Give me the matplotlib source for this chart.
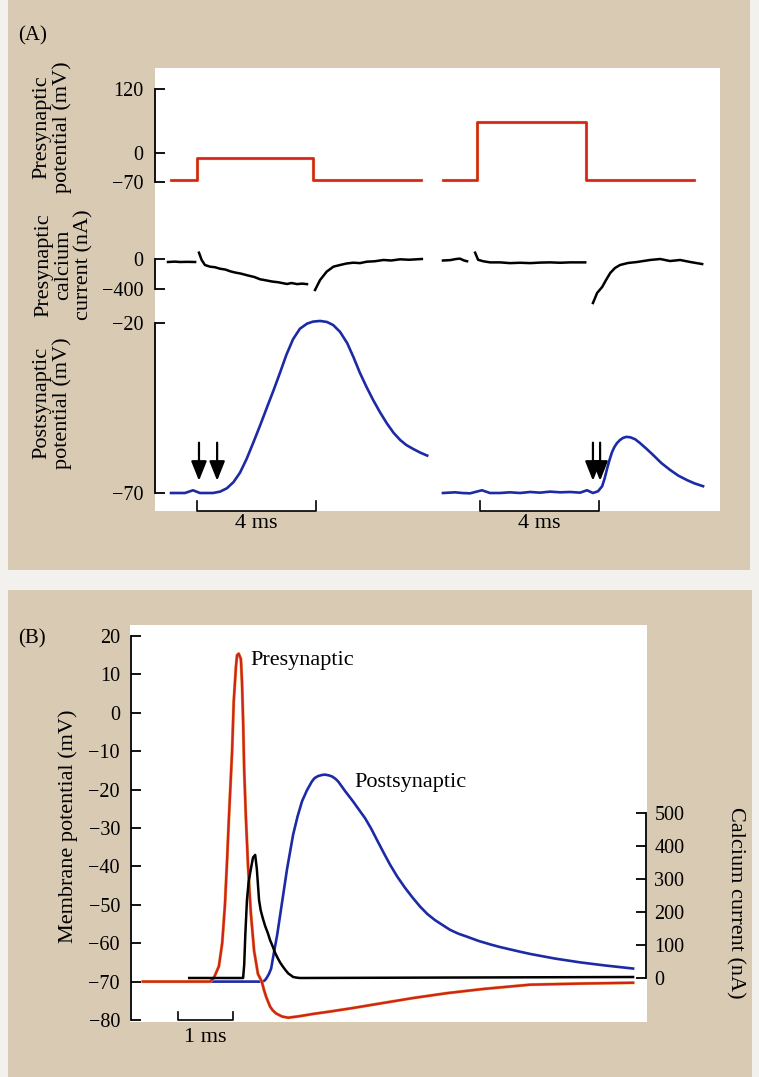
import numpy as np
import matplotlib
matplotlib.use("Agg")
import matplotlib.pyplot as plt
from matplotlib.patches import Rectangle

plt.rcParams['font.family'] = ['Liberation Serif', 'DejaVu Serif']

# ======================= DATA =======================
# ---- Panel A (time in ms; two voltage-clamp episodes) ----
pre_t_left = [0.0, 0.87, 4.77, 8.40]
pre_v_left = [-65, -12, -65, -65]
pre_t_right = [9.14, 10.29, 13.95, 17.58]
pre_v_right = [-65, 58, -65, -65]

ca_t_left_1 = [-0.10, 0.13, 0.30, 0.54, 0.81]
ca_i_left_1 = [-40, -35, -40, -38, -40]
ca_t_left_2 = [0.94, 1.03, 1.14, 1.31, 1.48, 1.65, 1.82, 2.00, 2.15, 2.35, 2.59, 2.80,
               2.99, 3.20, 3.39, 3.60, 3.90, 4.05, 4.24, 4.40, 4.57]
ca_i_left_2 = [84, -13, -80, -102, -110, -130, -140, -165, -180, -195, -220, -240,
               -270, -285, -300, -310, -333, -320, -335, -328, -335]
ca_t_left_3 = [4.84, 5.01, 5.23, 5.46, 5.68, 5.90, 6.13, 6.35, 6.58, 6.85, 7.14, 7.40,
               7.70, 8.00, 8.43]
ca_i_left_3 = [-413, -280, -169, -102, -80, -60, -49, -55, -36, -30, -13, -20,
               -4, -10, 0]

ca_t_right_1 = [9.14, 9.38, 9.58, 9.71, 9.85, 9.95]
ca_i_right_1 = [-20, -15, 0, 5, -20, -30]
ca_t_right_2 = [10.22, 10.32, 10.49, 10.72, 11.06, 11.39, 11.73, 12.07, 12.40,
                12.74, 13.08, 13.41, 13.92]
ca_i_right_2 = [84, -10, -30, -45, -45, -55, -50, -55, -48, -45, -50, -45, -45]
ca_t_right_3 = [14.18, 14.32, 14.49, 14.62, 14.76, 14.92, 15.09, 15.36, 15.66,
                16.10, 16.44, 16.77, 17.11, 17.45, 17.85]
ca_i_right_3 = [-587, -453, -373, -280, -187, -120, -80, -53, -40,
                -13, 0, -27, -13, -40, -67]

post_t_left = [0.0, 0.47, 0.74, 0.97, 1.41, 1.65, 1.88, 2.10, 2.32, 2.54, 2.76, 3.00,
               3.23, 3.45, 3.66, 3.88, 4.10, 4.33, 4.57, 4.77, 5.01, 5.24, 5.45, 5.68,
               5.92, 6.13, 6.35, 6.57, 6.79, 7.02, 7.26, 7.48, 7.70, 7.91, 8.13, 8.37, 8.61]
post_v_left = [-70, -70, -69.2, -70, -70, -69.6, -68.6, -66.8, -64, -60, -55.3, -50,
               -44.7, -39.7, -34.7, -29.3, -24.8, -21.7, -20.2, -19.6, -19.4, -19.7, -20.6,
               -22.6, -25.9, -30, -34.7, -38.8, -42.6, -46.2, -49.6, -52.3, -54.4, -55.9,
               -57, -58.1, -59]
post_t_right = [9.14, 9.55, 9.78, 10.05, 10.45, 10.72, 11.06, 11.39, 11.73, 12.07, 12.40,
                12.74, 13.08, 13.41, 13.75, 13.98, 14.18, 14.35, 14.49, 14.58, 14.66, 14.74,
                14.82, 14.90, 14.99, 15.09, 15.19, 15.30, 15.43, 15.60, 15.76, 15.98, 16.20,
                16.48, 16.77, 17.05, 17.34, 17.60, 17.88]
post_v_right = [-70, -69.8, -70, -70.1, -69.2, -70, -70, -69.8, -70, -69.7, -69.9,
                -69.6, -69.8, -69.7, -69.9, -69.2, -70, -69.5, -68, -65.5, -62.7, -60.2,
                -58, -56.5, -55.3, -54.4, -53.8, -53.5, -53.6, -54.2, -55.3, -57, -58.8,
                -61.2, -63.2, -64.9, -66.2, -67.2, -68]

arrow_t_left = [0.94, 1.55]
arrow_t_right = [14.18, 14.42]
scalebar_a_start = [0.87, 10.39]
scalebar_a_len = 4.0

pre_ticks = [-70, 0, 120]
ca_ticks = [-400, 0]
post_ticks = [-70, -20]

# ---- Panel B (time in ms) ----
pre_t_b = [0.0, 1.04, 1.22, 1.29, 1.38, 1.44, 1.49, 1.53, 1.56, 1.62, 1.65, 1.69,
           1.71, 1.74, 1.78, 1.80, 1.82, 1.84, 1.87, 1.91, 1.96, 2.02, 2.09, 2.16,
           2.20, 2.24, 2.31, 2.36, 2.42, 2.53, 2.64, 2.85, 3.10, 3.40, 3.85, 4.31,
           4.90, 5.53, 6.20, 7.04, 8.00, 8.91]
pre_v_b = [-70, -70, -70, -69, -66, -60, -50, -38, -28, -10, 3, 12,
           15.0, 15.4, 14, 8, -2, -15, -27, -40, -52, -62, -68, -70,
           -72.2, -74, -76.5, -77.5, -78.3, -79.1, -79.4, -79, -78.4, -77.8, -76.8, -75.7,
           -74.3, -73, -71.9, -70.8, -70.5, -70.3]
ca_t_b = [0.84, 1.82, 1.84, 1.86, 1.89, 1.92, 1.95, 2.00, 2.04, 2.07, 2.11, 2.14, 2.18,
          2.22, 2.27, 2.31, 2.36, 2.40, 2.45, 2.50, 2.55, 2.60, 2.64, 2.69, 2.73, 2.80,
          2.85, 8.91]
ca_i_b = [0, 0, 40, 130, 236, 290, 320, 365, 373, 330, 236, 205, 180,
          158, 136, 115, 95, 77, 60, 45, 33, 22, 14, 8, 3, 1,
          0, 3]
post_t_b = [0.0, 2.18, 2.22, 2.25, 2.29, 2.33, 2.38, 2.44, 2.53, 2.62, 2.73, 2.81, 2.89,
            2.98, 3.07, 3.12, 3.18, 3.25, 3.31, 3.38, 3.44, 3.50, 3.55, 3.67, 3.82, 3.93,
            4.04, 4.15, 4.25, 4.37, 4.49, 4.62, 4.76, 4.90, 5.04, 5.17, 5.31, 5.45, 5.58,
            5.73, 5.89, 6.10, 6.31, 6.49, 6.67, 6.85, 7.04, 7.49, 7.95, 8.40, 8.91]
post_v_b = [-70, -70, -69.6, -69, -68, -66.6, -62.5, -57.8, -49.2, -40.6, -31.7, -27, -23.1,
            -20.2, -17.9, -17.0, -16.5, -16.2, -16.1, -16.3, -16.6, -17.2, -17.9, -20.3, -23.1,
            -25.3, -27.5, -30.2, -33, -36.3, -39.5, -42.6, -45.5, -48.1, -50.5, -52.4, -54,
            -55.3, -56.5, -57.5, -58.3, -59.4, -60.3, -61.0, -61.6, -62.2, -62.8, -64, -65,
            -65.8, -66.6]
mv_ticks_b = [20, 10, 0, -10, -20, -30, -40, -50, -60, -70, -80]
na_ticks_b = [0, 100, 200, 300, 400, 500]
scalebar_b_start = 0.64
scalebar_b_len = 1.0

# ======================= STYLE / LAYOUT =======================
W, H = 759, 1077
BEIGE = '#d9cab3'
RED = '#d1221e'
RED_FRINGE = '#eab84a'
BLUE = '#1c2aa6'
TICK_FS = 14.5
LAB_FS = 16

fig = plt.figure(figsize=(W / 100, H / 100), dpi=100, facecolor='#f3f1ee')


def frect(x0, y0, x1, y1):
    return [x0 / W, 1 - y1 / H, (x1 - x0) / W, (y1 - y0) / H]


def fpt(x, y):
    return x / W, 1 - y / H


def add_bg(x0, y0, x1, y1, color, z):
    fig.patches.append(Rectangle((x0 / W, 1 - y1 / H), (x1 - x0) / W, (y1 - y0) / H,
                                 transform=fig.transFigure, facecolor=color,
                                 edgecolor='none', zorder=z))


add_bg(8, 0, 750, 570, BEIGE, -10)
add_bg(8, 590, 752, 1077, BEIGE, -10)
add_bg(155, 68, 720, 511, 'white', -9)
add_bg(130, 625, 647, 1022, 'white', -9)


def style_left(ax, bounds, ticks, pad=8.5):
    for s in ['top', 'right', 'bottom']:
        ax.spines[s].set_visible(False)
    ax.spines['left'].set_bounds(*bounds)
    ax.spines['left'].set_linewidth(1.3)
    ax.set_yticks(ticks)
    ax.set_xticks([])
    ax.tick_params(axis='y', direction='in', length=7, width=1.3,
                   labelsize=TICK_FS, pad=pad)
    ax.set_facecolor('none')


XLIM_A = (-0.538, 18.45)


# ---- Panel A top: presynaptic potential (axis is compressed below 0 mV) ----
def fwd(v):
    v = np.asarray(v, dtype=float)
    return np.where(v < 0, v * 29 / 70, v * 64 / 120)


def inv(u):
    u = np.asarray(u, dtype=float)
    return np.where(u < 0, u * 70 / 29, u * 120 / 64)


ax1 = fig.add_axes(frect(155, 85, 720, 190))
ax1.set_yscale('function', functions=(fwd, inv))
ax1.set_ylim(-89.3, 127.5)
ax1.set_xlim(*XLIM_A)
style_left(ax1, (-70, 120), pre_ticks)
for t, v in [(pre_t_left, pre_v_left), (pre_t_right, pre_v_right)]:
    ax1.plot(t, v, drawstyle='steps-post', color=RED_FRINGE, lw=2.3)
    ax1.plot(t, v, drawstyle='steps-post', color=RED, lw=1.8)

# ---- Panel A middle: calcium current ----
ax2 = fig.add_axes(frect(155, 245, 720, 310))
ax2.set_ylim(-680, 186.7)
ax2.set_xlim(*XLIM_A)
style_left(ax2, (-400, 0), ca_ticks)
for t, i in [(ca_t_left_1, ca_i_left_1), (ca_t_left_2, ca_i_left_2),
             (ca_t_left_3, ca_i_left_3), (ca_t_right_1, ca_i_right_1),
             (ca_t_right_2, ca_i_right_2), (ca_t_right_3, ca_i_right_3)]:
    ax2.plot(t, i, color='black', lw=1.8, solid_joinstyle='round')

# ---- Panel A bottom: postsynaptic potential ----
ax3 = fig.add_axes(frect(155, 315, 720, 500))
ax3.set_ylim(-72.06, -17.65)
ax3.set_xlim(*XLIM_A)
style_left(ax3, (-70, -20), post_ticks)
ax3.plot(post_t_left, post_v_left, color=BLUE, lw=1.9, solid_joinstyle='round')
ax3.plot(post_t_right, post_v_right, color=BLUE, lw=1.9, solid_joinstyle='round')
for t in arrow_t_left + arrow_t_right:
    ax3.annotate('', xy=(t, -66.4), xytext=(t, -55.2),
                 arrowprops=dict(arrowstyle='-|>,head_length=0.7,head_width=0.28',
                                 color='black', lw=1.6, mutation_scale=17,
                                 shrinkA=0, shrinkB=0))
for t0 in scalebar_a_start:
    ax3.plot([t0, t0, t0 + scalebar_a_len, t0 + scalebar_a_len],
             [-72.4, -75.3, -75.3, -72.4], color='black', lw=1.2, clip_on=False)
    ax3.text(t0 + scalebar_a_len / 2, -79.0, '4 ms', ha='center', va='center',
             fontsize=LAB_FS)

# labels panel A
fig.text(*fpt(18, 36), '(A)', fontsize=15, ha='left', va='center')
fig.text(*fpt(52, 127), 'Presynaptic\npotential (mV)', rotation=90, ha='center',
         va='center', multialignment='center', fontsize=LAB_FS, linespacing=1.05)
fig.text(*fpt(64, 265), 'Presynaptic\ncalcium\ncurrent (nA)', rotation=90,
         ha='center', va='center', multialignment='center', fontsize=LAB_FS,
         linespacing=1.05)
fig.text(*fpt(52, 403), 'Postsynaptic\npotential (mV)', rotation=90, ha='center',
         va='center', multialignment='center', fontsize=LAB_FS, linespacing=1.05)

# ---- Panel B ----
axb = fig.add_axes(frect(131, 636, 646, 1020))
axb.set_xlim(-0.218, 9.145)
axb.set_ylim(-80, 20)
style_left(axb, (-80, 20), mv_ticks_b, pad=8)
axb.plot(post_t_b, post_v_b, color=BLUE, lw=1.9, solid_joinstyle='round')
axb.plot(pre_t_b, pre_v_b, color=RED_FRINGE, lw=2.3, solid_joinstyle='round')
axb.plot(pre_t_b, pre_v_b, color=RED, lw=1.7, solid_joinstyle='round')
axb.plot([scalebar_b_start, scalebar_b_start, scalebar_b_start + scalebar_b_len,
          scalebar_b_start + scalebar_b_len], [-78.0, -80, -80, -78.0],
         color='black', lw=1.2, clip_on=False)
axb.text(scalebar_b_start + scalebar_b_len / 2, -84.5, '1 ms', ha='center',
         va='center', fontsize=LAB_FS)
axb.text(1.95, 13.6, 'Presynaptic', ha='left', va='center', fontsize=LAB_FS)
axb.text(3.85, -18.2, 'Postsynaptic', ha='left', va='center', fontsize=LAB_FS)

axc = axb.twinx()
axc.set_ylim(-127.3, 1036.4)
for s in ['top', 'left', 'bottom']:
    axc.spines[s].set_visible(False)
axc.spines['right'].set_bounds(0, 500)
axc.spines['right'].set_linewidth(1.3)
axc.set_yticks(na_ticks_b)
axc.tick_params(axis='y', direction='in', length=7, width=1.3, labelsize=TICK_FS, pad=6)
axc.set_facecolor('none')
axc.plot(ca_t_b, ca_i_b, color='black', lw=1.8, solid_joinstyle='round')

fig.text(*fpt(68, 826), 'Membrane potential (mV)', rotation=90, ha='center',
         va='center', fontsize=LAB_FS)
fig.text(*fpt(735, 903), 'Calcium current (nA)', rotation=270, ha='center',
         va='center', fontsize=LAB_FS)
fig.text(*fpt(18, 639), '(B)', fontsize=15, ha='left', va='center')

fig.savefig('out.png', dpi=100, facecolor=fig.get_facecolor())
